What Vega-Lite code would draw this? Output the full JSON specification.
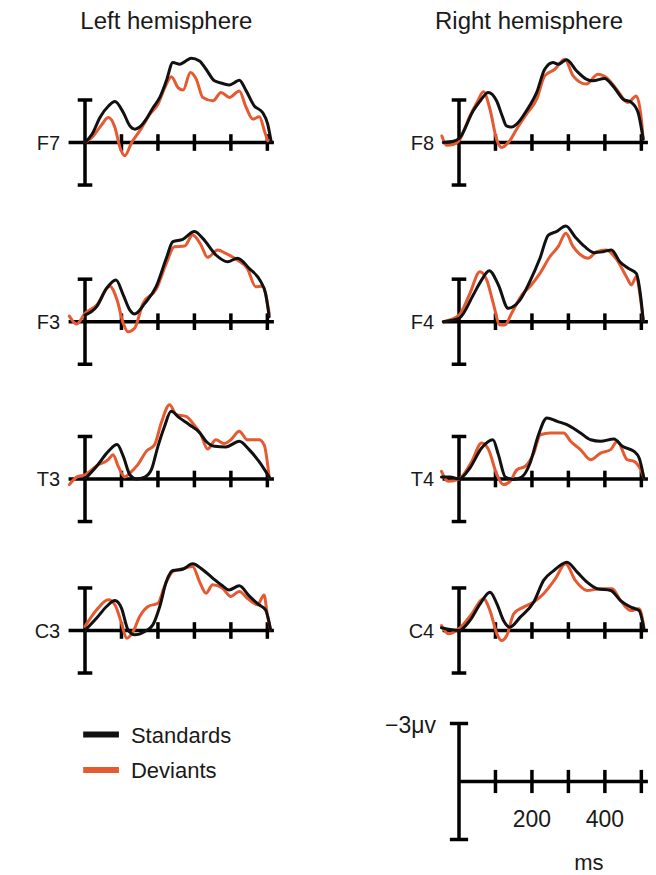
{
"$schema":"https://vega.github.io/schema/vega-lite/v6.json",
"padding":{"left":26.65,"top":0,"right":0,"bottom":0},
"config":{"view":{"stroke":null},"axis":{"disable":true},"legend":{"disable":true},
"rule":{"color":"#000000","strokeWidth":3.5},
"line":{"strokeWidth":3,"interpolate":"monotone","strokeJoin":"round","strokeCap":"round"},
"text":{"font":"Liberation Sans","color":"#1a1a1a","baseline":"alphabetic"}},
"datasets":{
"one":[{"k":1}],
"ticks":[{"ms":100},{"ms":200},{"ms":300},{"ms":400},{"ms":500}],
"legend":[{"cond":"Standards"},{"cond":"Deviants"}],
"erp":[
{"site":"F7","cond":"Standards","ms":0,"uv":0},{"site":"F7","cond":"Standards","ms":20,"uv":-0.45},{"site":"F7","cond":"Standards","ms":41,"uv":-1.29},{"site":"F7","cond":"Standards","ms":65,"uv":-1.9},{"site":"F7","cond":"Standards","ms":82,"uv":-2.12},{"site":"F7","cond":"Standards","ms":105,"uv":-1.55},{"site":"F7","cond":"Standards","ms":123,"uv":-0.86},{"site":"F7","cond":"Standards","ms":137,"uv":-0.69},{"site":"F7","cond":"Standards","ms":150,"uv":-0.8},{"site":"F7","cond":"Standards","ms":168,"uv":-1.21},{"site":"F7","cond":"Standards","ms":185,"uv":-1.75},{"site":"F7","cond":"Standards","ms":205,"uv":-2.33},{"site":"F7","cond":"Standards","ms":223,"uv":-3.19},{"site":"F7","cond":"Standards","ms":241,"uv":-4.14},{"site":"F7","cond":"Standards","ms":260,"uv":-4.05},{"site":"F7","cond":"Standards","ms":275,"uv":-4.2},{"site":"F7","cond":"Standards","ms":291,"uv":-4.36},{"site":"F7","cond":"Standards","ms":314,"uv":-4.22},{"site":"F7","cond":"Standards","ms":332,"uv":-3.79},{"site":"F7","cond":"Standards","ms":355,"uv":-3.19},{"site":"F7","cond":"Standards","ms":378,"uv":-3.05},{"site":"F7","cond":"Standards","ms":396,"uv":-2.98},{"site":"F7","cond":"Standards","ms":410,"uv":-3.1},{"site":"F7","cond":"Standards","ms":423,"uv":-3.22},{"site":"F7","cond":"Standards","ms":442,"uv":-2.67},{"site":"F7","cond":"Standards","ms":464,"uv":-1.9},{"site":"F7","cond":"Standards","ms":487,"uv":-1.55},{"site":"F7","cond":"Standards","ms":501,"uv":-0.95},{"site":"F7","cond":"Standards","ms":510,"uv":-0.09},
{"site":"F7","cond":"Deviants","ms":0,"uv":0},{"site":"F7","cond":"Deviants","ms":23,"uv":-0.34},{"site":"F7","cond":"Deviants","ms":45,"uv":-0.9},{"site":"F7","cond":"Deviants","ms":64,"uv":-1.29},{"site":"F7","cond":"Deviants","ms":82,"uv":-0.78},{"site":"F7","cond":"Deviants","ms":96,"uv":0.26},{"site":"F7","cond":"Deviants","ms":109,"uv":0.69},{"site":"F7","cond":"Deviants","ms":128,"uv":0},{"site":"F7","cond":"Deviants","ms":150,"uv":-0.6},{"site":"F7","cond":"Deviants","ms":178,"uv":-1.47},{"site":"F7","cond":"Deviants","ms":200,"uv":-1.98},{"site":"F7","cond":"Deviants","ms":219,"uv":-2.84},{"site":"F7","cond":"Deviants","ms":237,"uv":-3.4},{"site":"F7","cond":"Deviants","ms":255,"uv":-2.84},{"site":"F7","cond":"Deviants","ms":269,"uv":-2.71},{"site":"F7","cond":"Deviants","ms":289,"uv":-3.62},{"site":"F7","cond":"Deviants","ms":305,"uv":-3.28},{"site":"F7","cond":"Deviants","ms":323,"uv":-2.33},{"site":"F7","cond":"Deviants","ms":351,"uv":-2.16},{"site":"F7","cond":"Deviants","ms":373,"uv":-2.59},{"site":"F7","cond":"Deviants","ms":396,"uv":-2.33},{"site":"F7","cond":"Deviants","ms":423,"uv":-2.67},{"site":"F7","cond":"Deviants","ms":442,"uv":-1.81},{"site":"F7","cond":"Deviants","ms":460,"uv":-1.21},{"site":"F7","cond":"Deviants","ms":478,"uv":-1.33},{"site":"F7","cond":"Deviants","ms":492,"uv":-0.6},{"site":"F7","cond":"Deviants","ms":501,"uv":-0.09},
{"site":"F8","cond":"Standards","ms":-43,"uv":0},{"site":"F8","cond":"Standards","ms":-20,"uv":-0.05},{"site":"F8","cond":"Standards","ms":0,"uv":-0.2},{"site":"F8","cond":"Standards","ms":39,"uv":-1.64},{"site":"F8","cond":"Standards","ms":60,"uv":-2.2},{"site":"F8","cond":"Standards","ms":80,"uv":-2.59},{"site":"F8","cond":"Standards","ms":103,"uv":-2.16},{"site":"F8","cond":"Standards","ms":118,"uv":-1.4},{"site":"F8","cond":"Standards","ms":130,"uv":-0.86},{"site":"F8","cond":"Standards","ms":145,"uv":-0.8},{"site":"F8","cond":"Standards","ms":158,"uv":-0.95},{"site":"F8","cond":"Standards","ms":185,"uv":-1.64},{"site":"F8","cond":"Standards","ms":213,"uv":-2.59},{"site":"F8","cond":"Standards","ms":235,"uv":-3.79},{"site":"F8","cond":"Standards","ms":258,"uv":-4.14},{"site":"F8","cond":"Standards","ms":272,"uv":-4.05},{"site":"F8","cond":"Standards","ms":295,"uv":-4.28},{"site":"F8","cond":"Standards","ms":322,"uv":-3.71},{"site":"F8","cond":"Standards","ms":349,"uv":-3.28},{"site":"F8","cond":"Standards","ms":367,"uv":-3.19},{"site":"F8","cond":"Standards","ms":399,"uv":-3.31},{"site":"F8","cond":"Standards","ms":422,"uv":-2.93},{"site":"F8","cond":"Standards","ms":450,"uv":-2.24},{"site":"F8","cond":"Standards","ms":473,"uv":-2.07},{"site":"F8","cond":"Standards","ms":491,"uv":-1.55},{"site":"F8","cond":"Standards","ms":505,"uv":-0.17},
{"site":"F8","cond":"Deviants","ms":-47,"uv":-0.34},{"site":"F8","cond":"Deviants","ms":-34,"uv":0.14},{"site":"F8","cond":"Deviants","ms":-15,"uv":0.1},{"site":"F8","cond":"Deviants","ms":0,"uv":-0.09},{"site":"F8","cond":"Deviants","ms":30,"uv":-1.38},{"site":"F8","cond":"Deviants","ms":50,"uv":-2.1},{"site":"F8","cond":"Deviants","ms":67,"uv":-2.62},{"site":"F8","cond":"Deviants","ms":85,"uv":-1.72},{"site":"F8","cond":"Deviants","ms":103,"uv":-0.17},{"site":"F8","cond":"Deviants","ms":117,"uv":0.26},{"site":"F8","cond":"Deviants","ms":139,"uv":-0.09},{"site":"F8","cond":"Deviants","ms":158,"uv":-0.69},{"site":"F8","cond":"Deviants","ms":185,"uv":-1.47},{"site":"F8","cond":"Deviants","ms":213,"uv":-2.24},{"site":"F8","cond":"Deviants","ms":235,"uv":-3.45},{"site":"F8","cond":"Deviants","ms":263,"uv":-3.79},{"site":"F8","cond":"Deviants","ms":290,"uv":-4.31},{"site":"F8","cond":"Deviants","ms":313,"uv":-3.45},{"site":"F8","cond":"Deviants","ms":349,"uv":-3.02},{"site":"F8","cond":"Deviants","ms":381,"uv":-3.53},{"site":"F8","cond":"Deviants","ms":404,"uv":-3.36},{"site":"F8","cond":"Deviants","ms":432,"uv":-2.76},{"site":"F8","cond":"Deviants","ms":463,"uv":-2.07},{"site":"F8","cond":"Deviants","ms":486,"uv":-2.41},{"site":"F8","cond":"Deviants","ms":500,"uv":-1.21},{"site":"F8","cond":"Deviants","ms":505,"uv":-0.17},
{"site":"F3","cond":"Standards","ms":0,"uv":-0.34},{"site":"F3","cond":"Standards","ms":32,"uv":-0.78},{"site":"F3","cond":"Standards","ms":59,"uv":-1.72},{"site":"F3","cond":"Standards","ms":85,"uv":-2.16},{"site":"F3","cond":"Standards","ms":105,"uv":-1.38},{"site":"F3","cond":"Standards","ms":123,"uv":-0.6},{"site":"F3","cond":"Standards","ms":136,"uv":-0.4},{"site":"F3","cond":"Standards","ms":164,"uv":-0.95},{"site":"F3","cond":"Standards","ms":195,"uv":-1.81},{"site":"F3","cond":"Standards","ms":223,"uv":-3.28},{"site":"F3","cond":"Standards","ms":241,"uv":-4.14},{"site":"F3","cond":"Standards","ms":268,"uv":-4.26},{"site":"F3","cond":"Standards","ms":300,"uv":-4.66},{"site":"F3","cond":"Standards","ms":323,"uv":-4.31},{"site":"F3","cond":"Standards","ms":359,"uv":-3.45},{"site":"F3","cond":"Standards","ms":391,"uv":-3.1},{"site":"F3","cond":"Standards","ms":418,"uv":-3.28},{"site":"F3","cond":"Standards","ms":450,"uv":-2.76},{"site":"F3","cond":"Standards","ms":482,"uv":-2.07},{"site":"F3","cond":"Standards","ms":495,"uv":-1.47},{"site":"F3","cond":"Standards","ms":505,"uv":-0.26},
{"site":"F3","cond":"Deviants","ms":-43,"uv":-0.29},{"site":"F3","cond":"Deviants","ms":-23,"uv":0.12},{"site":"F3","cond":"Deviants","ms":0,"uv":-0.43},{"site":"F3","cond":"Deviants","ms":32,"uv":-0.86},{"site":"F3","cond":"Deviants","ms":68,"uv":-1.84},{"site":"F3","cond":"Deviants","ms":88,"uv":-1.12},{"site":"F3","cond":"Deviants","ms":105,"uv":0.09},{"site":"F3","cond":"Deviants","ms":118,"uv":0.52},{"site":"F3","cond":"Deviants","ms":136,"uv":0.34},{"site":"F3","cond":"Deviants","ms":159,"uv":-0.95},{"site":"F3","cond":"Deviants","ms":195,"uv":-1.67},{"site":"F3","cond":"Deviants","ms":223,"uv":-3.02},{"site":"F3","cond":"Deviants","ms":245,"uv":-3.88},{"site":"F3","cond":"Deviants","ms":273,"uv":-3.91},{"site":"F3","cond":"Deviants","ms":295,"uv":-4.48},{"site":"F3","cond":"Deviants","ms":318,"uv":-3.97},{"site":"F3","cond":"Deviants","ms":336,"uv":-3.33},{"site":"F3","cond":"Deviants","ms":364,"uv":-3.71},{"site":"F3","cond":"Deviants","ms":386,"uv":-3.53},{"site":"F3","cond":"Deviants","ms":418,"uv":-3.19},{"site":"F3","cond":"Deviants","ms":445,"uv":-2.76},{"site":"F3","cond":"Deviants","ms":468,"uv":-1.81},{"site":"F3","cond":"Deviants","ms":486,"uv":-1.84},{"site":"F3","cond":"Deviants","ms":505,"uv":-0.43},
{"site":"F4","cond":"Standards","ms":-43,"uv":0},{"site":"F4","cond":"Standards","ms":0,"uv":-0.17},{"site":"F4","cond":"Standards","ms":39,"uv":-1.38},{"site":"F4","cond":"Standards","ms":60,"uv":-2.1},{"site":"F4","cond":"Standards","ms":83,"uv":-2.64},{"site":"F4","cond":"Standards","ms":108,"uv":-1.9},{"site":"F4","cond":"Standards","ms":135,"uv":-0.69},{"site":"F4","cond":"Standards","ms":150,"uv":-0.8},{"site":"F4","cond":"Standards","ms":167,"uv":-1.12},{"site":"F4","cond":"Standards","ms":194,"uv":-2.07},{"site":"F4","cond":"Standards","ms":222,"uv":-3.28},{"site":"F4","cond":"Standards","ms":245,"uv":-4.48},{"site":"F4","cond":"Standards","ms":267,"uv":-4.66},{"site":"F4","cond":"Standards","ms":293,"uv":-4.95},{"site":"F4","cond":"Standards","ms":318,"uv":-4.4},{"site":"F4","cond":"Standards","ms":345,"uv":-3.88},{"site":"F4","cond":"Standards","ms":372,"uv":-3.57},{"site":"F4","cond":"Standards","ms":395,"uv":-3.62},{"site":"F4","cond":"Standards","ms":418,"uv":-3.71},{"site":"F4","cond":"Standards","ms":441,"uv":-3.1},{"site":"F4","cond":"Standards","ms":464,"uv":-2.76},{"site":"F4","cond":"Standards","ms":486,"uv":-2.5},{"site":"F4","cond":"Standards","ms":497,"uv":-1.47},{"site":"F4","cond":"Standards","ms":505,"uv":-0.09},
{"site":"F4","cond":"Deviants","ms":-43,"uv":0},{"site":"F4","cond":"Deviants","ms":0,"uv":-0.34},{"site":"F4","cond":"Deviants","ms":30,"uv":-1.47},{"site":"F4","cond":"Deviants","ms":57,"uv":-2.59},{"site":"F4","cond":"Deviants","ms":76,"uv":-2.16},{"site":"F4","cond":"Deviants","ms":94,"uv":-0.95},{"site":"F4","cond":"Deviants","ms":112,"uv":0.17},{"site":"F4","cond":"Deviants","ms":126,"uv":0.17},{"site":"F4","cond":"Deviants","ms":144,"uv":-0.43},{"site":"F4","cond":"Deviants","ms":172,"uv":-1.38},{"site":"F4","cond":"Deviants","ms":194,"uv":-1.81},{"site":"F4","cond":"Deviants","ms":222,"uv":-2.5},{"site":"F4","cond":"Deviants","ms":249,"uv":-3.36},{"site":"F4","cond":"Deviants","ms":272,"uv":-3.88},{"site":"F4","cond":"Deviants","ms":293,"uv":-4.57},{"site":"F4","cond":"Deviants","ms":313,"uv":-3.88},{"site":"F4","cond":"Deviants","ms":331,"uv":-3.5},{"site":"F4","cond":"Deviants","ms":354,"uv":-3.28},{"site":"F4","cond":"Deviants","ms":377,"uv":-3.62},{"site":"F4","cond":"Deviants","ms":404,"uv":-3.71},{"site":"F4","cond":"Deviants","ms":432,"uv":-3.22},{"site":"F4","cond":"Deviants","ms":459,"uv":-2.33},{"site":"F4","cond":"Deviants","ms":473,"uv":-1.9},{"site":"F4","cond":"Deviants","ms":486,"uv":-2.33},{"site":"F4","cond":"Deviants","ms":497,"uv":-1.29},{"site":"F4","cond":"Deviants","ms":505,"uv":-0.09},
{"site":"T3","cond":"Standards","ms":0,"uv":0},{"site":"T3","cond":"Standards","ms":32,"uv":-0.66},{"site":"T3","cond":"Standards","ms":64,"uv":-1.43},{"site":"T3","cond":"Standards","ms":88,"uv":-1.78},{"site":"T3","cond":"Standards","ms":105,"uv":-1.17},{"site":"T3","cond":"Standards","ms":123,"uv":-0.22},{"site":"T3","cond":"Standards","ms":141,"uv":0},{"site":"T3","cond":"Standards","ms":164,"uv":-0.1},{"site":"T3","cond":"Standards","ms":182,"uv":-0.48},{"site":"T3","cond":"Standards","ms":200,"uv":-1.69},{"site":"T3","cond":"Standards","ms":218,"uv":-2.72},{"site":"T3","cond":"Standards","ms":236,"uv":-3.5},{"site":"T3","cond":"Standards","ms":259,"uv":-3.16},{"site":"T3","cond":"Standards","ms":286,"uv":-2.81},{"site":"T3","cond":"Standards","ms":314,"uv":-2.41},{"site":"T3","cond":"Standards","ms":332,"uv":-1.95},{"site":"T3","cond":"Standards","ms":355,"uv":-1.69},{"site":"T3","cond":"Standards","ms":386,"uv":-1.66},{"site":"T3","cond":"Standards","ms":423,"uv":-1.95},{"site":"T3","cond":"Standards","ms":450,"uv":-1.52},{"site":"T3","cond":"Standards","ms":477,"uv":-0.91},{"site":"T3","cond":"Standards","ms":505,"uv":-0.1},
{"site":"T3","cond":"Deviants","ms":-43,"uv":0.29},{"site":"T3","cond":"Deviants","ms":-23,"uv":-0.1},{"site":"T3","cond":"Deviants","ms":0,"uv":-0.22},{"site":"T3","cond":"Deviants","ms":32,"uv":-0.69},{"site":"T3","cond":"Deviants","ms":64,"uv":-1.0},{"site":"T3","cond":"Deviants","ms":77,"uv":-1.26},{"site":"T3","cond":"Deviants","ms":91,"uv":-0.66},{"site":"T3","cond":"Deviants","ms":109,"uv":-0.1},{"site":"T3","cond":"Deviants","ms":123,"uv":-0.31},{"site":"T3","cond":"Deviants","ms":145,"uv":-0.74},{"site":"T3","cond":"Deviants","ms":168,"uv":-1.43},{"site":"T3","cond":"Deviants","ms":191,"uv":-1.78},{"site":"T3","cond":"Deviants","ms":209,"uv":-2.9},{"site":"T3","cond":"Deviants","ms":232,"uv":-3.84},{"site":"T3","cond":"Deviants","ms":250,"uv":-3.33},{"site":"T3","cond":"Deviants","ms":277,"uv":-3.24},{"site":"T3","cond":"Deviants","ms":295,"uv":-2.9},{"site":"T3","cond":"Deviants","ms":318,"uv":-2.29},{"site":"T3","cond":"Deviants","ms":336,"uv":-1.55},{"site":"T3","cond":"Deviants","ms":359,"uv":-2.03},{"site":"T3","cond":"Deviants","ms":382,"uv":-1.83},{"site":"T3","cond":"Deviants","ms":400,"uv":-2.03},{"site":"T3","cond":"Deviants","ms":423,"uv":-2.47},{"site":"T3","cond":"Deviants","ms":445,"uv":-2.03},{"site":"T3","cond":"Deviants","ms":477,"uv":-2.03},{"site":"T3","cond":"Deviants","ms":491,"uv":-1.78},{"site":"T3","cond":"Deviants","ms":505,"uv":-0.1},
{"site":"T4","cond":"Standards","ms":-48,"uv":-0.1},{"site":"T4","cond":"Standards","ms":-25,"uv":-0.1},{"site":"T4","cond":"Standards","ms":0,"uv":0},{"site":"T4","cond":"Standards","ms":30,"uv":-0.57},{"site":"T4","cond":"Standards","ms":62,"uv":-1.6},{"site":"T4","cond":"Standards","ms":93,"uv":-2.03},{"site":"T4","cond":"Standards","ms":108,"uv":-1.26},{"site":"T4","cond":"Standards","ms":127,"uv":-0.1},{"site":"T4","cond":"Standards","ms":150,"uv":0.03},{"site":"T4","cond":"Standards","ms":172,"uv":-0.1},{"site":"T4","cond":"Standards","ms":195,"uv":-0.83},{"site":"T4","cond":"Standards","ms":218,"uv":-2.29},{"site":"T4","cond":"Standards","ms":241,"uv":-3.16},{"site":"T4","cond":"Standards","ms":269,"uv":-2.98},{"site":"T4","cond":"Standards","ms":296,"uv":-2.81},{"site":"T4","cond":"Standards","ms":333,"uv":-2.38},{"site":"T4","cond":"Standards","ms":361,"uv":-2.03},{"site":"T4","cond":"Standards","ms":388,"uv":-1.95},{"site":"T4","cond":"Standards","ms":425,"uv":-2.07},{"site":"T4","cond":"Standards","ms":448,"uv":-1.69},{"site":"T4","cond":"Standards","ms":480,"uv":-1.43},{"site":"T4","cond":"Standards","ms":494,"uv":-1.09},{"site":"T4","cond":"Standards","ms":507,"uv":-0.05},
{"site":"T4","cond":"Deviants","ms":-48,"uv":-0.4},{"site":"T4","cond":"Deviants","ms":-29,"uv":0.12},{"site":"T4","cond":"Deviants","ms":0,"uv":0},{"site":"T4","cond":"Deviants","ms":35,"uv":-0.91},{"site":"T4","cond":"Deviants","ms":62,"uv":-1.86},{"site":"T4","cond":"Deviants","ms":81,"uv":-1.52},{"site":"T4","cond":"Deviants","ms":104,"uv":-0.22},{"site":"T4","cond":"Deviants","ms":122,"uv":0.29},{"site":"T4","cond":"Deviants","ms":140,"uv":0.12},{"site":"T4","cond":"Deviants","ms":159,"uv":-0.48},{"site":"T4","cond":"Deviants","ms":182,"uv":-0.66},{"site":"T4","cond":"Deviants","ms":205,"uv":-1.34},{"site":"T4","cond":"Deviants","ms":223,"uv":-2.29},{"site":"T4","cond":"Deviants","ms":250,"uv":-2.38},{"site":"T4","cond":"Deviants","ms":287,"uv":-2.38},{"site":"T4","cond":"Deviants","ms":306,"uv":-1.95},{"site":"T4","cond":"Deviants","ms":333,"uv":-1.52},{"site":"T4","cond":"Deviants","ms":361,"uv":-1.0},{"site":"T4","cond":"Deviants","ms":388,"uv":-1.34},{"site":"T4","cond":"Deviants","ms":416,"uv":-1.52},{"site":"T4","cond":"Deviants","ms":434,"uv":-1.95},{"site":"T4","cond":"Deviants","ms":461,"uv":-1.0},{"site":"T4","cond":"Deviants","ms":480,"uv":-0.91},{"site":"T4","cond":"Deviants","ms":498,"uv":-0.48},{"site":"T4","cond":"Deviants","ms":507,"uv":-0.05},
{"site":"C3","cond":"Standards","ms":0,"uv":0},{"site":"C3","cond":"Standards","ms":32,"uv":-0.64},{"site":"C3","cond":"Standards","ms":59,"uv":-1.24},{"site":"C3","cond":"Standards","ms":82,"uv":-1.55},{"site":"C3","cond":"Standards","ms":100,"uv":-1.16},{"site":"C3","cond":"Standards","ms":118,"uv":-0.03},{"site":"C3","cond":"Standards","ms":136,"uv":0.22},{"site":"C3","cond":"Standards","ms":164,"uv":0.05},{"site":"C3","cond":"Standards","ms":186,"uv":-0.29},{"site":"C3","cond":"Standards","ms":205,"uv":-1.24},{"site":"C3","cond":"Standards","ms":223,"uv":-2.53},{"site":"C3","cond":"Standards","ms":241,"uv":-3.1},{"site":"C3","cond":"Standards","ms":268,"uv":-3.17},{"site":"C3","cond":"Standards","ms":295,"uv":-3.45},{"site":"C3","cond":"Standards","ms":323,"uv":-3.14},{"site":"C3","cond":"Standards","ms":350,"uv":-2.71},{"site":"C3","cond":"Standards","ms":377,"uv":-2.31},{"site":"C3","cond":"Standards","ms":395,"uv":-2.1},{"site":"C3","cond":"Standards","ms":423,"uv":-2.31},{"site":"C3","cond":"Standards","ms":450,"uv":-1.79},{"site":"C3","cond":"Standards","ms":477,"uv":-1.33},{"site":"C3","cond":"Standards","ms":495,"uv":-1.07},{"site":"C3","cond":"Standards","ms":509,"uv":-0.03},
{"site":"C3","cond":"Deviants","ms":0,"uv":-0.21},{"site":"C3","cond":"Deviants","ms":32,"uv":-1.07},{"site":"C3","cond":"Deviants","ms":64,"uv":-1.59},{"site":"C3","cond":"Deviants","ms":82,"uv":-1.33},{"site":"C3","cond":"Deviants","ms":100,"uv":-0.38},{"site":"C3","cond":"Deviants","ms":114,"uv":0.4},{"site":"C3","cond":"Deviants","ms":132,"uv":0.05},{"site":"C3","cond":"Deviants","ms":150,"uv":-0.72},{"site":"C3","cond":"Deviants","ms":173,"uv":-1.24},{"site":"C3","cond":"Deviants","ms":200,"uv":-1.41},{"site":"C3","cond":"Deviants","ms":218,"uv":-2.28},{"site":"C3","cond":"Deviants","ms":241,"uv":-3.05},{"site":"C3","cond":"Deviants","ms":273,"uv":-3.22},{"site":"C3","cond":"Deviants","ms":295,"uv":-3.31},{"site":"C3","cond":"Deviants","ms":314,"uv":-2.53},{"site":"C3","cond":"Deviants","ms":332,"uv":-1.93},{"site":"C3","cond":"Deviants","ms":350,"uv":-2.36},{"site":"C3","cond":"Deviants","ms":377,"uv":-2.19},{"site":"C3","cond":"Deviants","ms":400,"uv":-1.76},{"site":"C3","cond":"Deviants","ms":423,"uv":-2.02},{"site":"C3","cond":"Deviants","ms":445,"uv":-1.67},{"site":"C3","cond":"Deviants","ms":473,"uv":-1.33},{"site":"C3","cond":"Deviants","ms":491,"uv":-1.84},{"site":"C3","cond":"Deviants","ms":500,"uv":-0.81},{"site":"C3","cond":"Deviants","ms":509,"uv":-0.03},
{"site":"C4","cond":"Standards","ms":-48,"uv":-0.14},{"site":"C4","cond":"Standards","ms":0,"uv":0},{"site":"C4","cond":"Standards","ms":30,"uv":-0.52},{"site":"C4","cond":"Standards","ms":58,"uv":-1.38},{"site":"C4","cond":"Standards","ms":85,"uv":-1.98},{"site":"C4","cond":"Standards","ms":104,"uv":-1.38},{"site":"C4","cond":"Standards","ms":122,"uv":-0.52},{"site":"C4","cond":"Standards","ms":139,"uv":-0.17},{"site":"C4","cond":"Standards","ms":168,"uv":-0.69},{"site":"C4","cond":"Standards","ms":205,"uv":-1.47},{"site":"C4","cond":"Standards","ms":232,"uv":-2.59},{"site":"C4","cond":"Standards","ms":260,"uv":-3.1},{"site":"C4","cond":"Standards","ms":296,"uv":-3.53},{"site":"C4","cond":"Standards","ms":324,"uv":-3.02},{"site":"C4","cond":"Standards","ms":351,"uv":-2.5},{"site":"C4","cond":"Standards","ms":379,"uv":-2.16},{"site":"C4","cond":"Standards","ms":416,"uv":-2.07},{"site":"C4","cond":"Standards","ms":443,"uv":-1.55},{"site":"C4","cond":"Standards","ms":471,"uv":-1.21},{"site":"C4","cond":"Standards","ms":494,"uv":-1.03},{"site":"C4","cond":"Standards","ms":507,"uv":-0.09},
{"site":"C4","cond":"Deviants","ms":-48,"uv":-0.26},{"site":"C4","cond":"Deviants","ms":-29,"uv":0.17},{"site":"C4","cond":"Deviants","ms":0,"uv":-0.09},{"site":"C4","cond":"Deviants","ms":35,"uv":-0.86},{"site":"C4","cond":"Deviants","ms":67,"uv":-1.64},{"site":"C4","cond":"Deviants","ms":85,"uv":-1.03},{"site":"C4","cond":"Deviants","ms":104,"uv":0.17},{"site":"C4","cond":"Deviants","ms":117,"uv":0.52},{"site":"C4","cond":"Deviants","ms":131,"uv":0.26},{"site":"C4","cond":"Deviants","ms":150,"uv":-0.86},{"site":"C4","cond":"Deviants","ms":177,"uv":-1.21},{"site":"C4","cond":"Deviants","ms":205,"uv":-1.47},{"site":"C4","cond":"Deviants","ms":232,"uv":-1.9},{"site":"C4","cond":"Deviants","ms":264,"uv":-2.67},{"site":"C4","cond":"Deviants","ms":292,"uv":-3.45},{"site":"C4","cond":"Deviants","ms":319,"uv":-2.59},{"site":"C4","cond":"Deviants","ms":351,"uv":-2.07},{"site":"C4","cond":"Deviants","ms":388,"uv":-2.16},{"site":"C4","cond":"Deviants","ms":420,"uv":-2.16},{"site":"C4","cond":"Deviants","ms":443,"uv":-1.55},{"site":"C4","cond":"Deviants","ms":471,"uv":-1.03},{"site":"C4","cond":"Deviants","ms":494,"uv":-1.12},{"site":"C4","cond":"Deviants","ms":507,"uv":-0.17}
]},
"vconcat":[
{"hconcat":[
{"width":248,"height":200,"layer":[
{"data":{"name":"one"},"mark":"rule","encoding":{"x":{"datum":-45,"type":"quantitative","scale":{"domain":[-160,520],"nice":false,"zero":false}},"x2":{"datum":518},"y":{"datum":0,"type":"quantitative","scale":{"domain":[-7.371,2.974],"nice":false,"zero":false,"reverse":true}}}},
{"data":{"name":"one"},"mark":"rule","encoding":{"x":{"datum":0,"type":"quantitative"},"y":{"datum":-2.2,"type":"quantitative"},"y2":{"datum":2.2}}},
{"data":{"name":"one"},"mark":"rule","encoding":{"x":{"datum":-20,"type":"quantitative"},"x2":{"datum":20},"y":{"datum":-2.2,"type":"quantitative"}}},
{"data":{"name":"one"},"mark":"rule","encoding":{"x":{"datum":-20,"type":"quantitative"},"x2":{"datum":20},"y":{"datum":2.2,"type":"quantitative"}}},
{"data":{"name":"ticks"},"mark":"rule","encoding":{"x":{"field":"ms","type":"quantitative"},"y":{"datum":-0.43,"type":"quantitative"},"y2":{"datum":0.43}}},
{"data":{"name":"erp"},"transform":[{"filter":"datum.site==='F7' && datum.cond==='Deviants'"}],"mark":"line","encoding":{"x":{"field":"ms","type":"quantitative"},"y":{"field":"uv","type":"quantitative"},"color":{"field":"cond","type":"nominal","scale":{"domain":["Standards","Deviants"],"range":["#111111","#E65A32"]},"legend":null}}},
{"data":{"name":"erp"},"transform":[{"filter":"datum.site==='F7' && datum.cond==='Standards'"}],"mark":"line","encoding":{"x":{"field":"ms","type":"quantitative"},"y":{"field":"uv","type":"quantitative"},"color":{"field":"cond","type":"nominal","legend":null}}},
{"data":{"name":"one"},"mark":{"type":"text","align":"right","fontSize":20},"encoding":{"x":{"datum":-68,"type":"quantitative"},"y":{"datum":0.37,"type":"quantitative"},"text":{"value":"F7"}}},
{"data":{"name":"one"},"mark":{"type":"text","align":"center","fontSize":24},"encoding":{"x":{"datum":223,"type":"quantitative"},"y":{"datum":-5.855,"type":"quantitative"},"text":{"value":"Left hemisphere"}}}
]},
{"width":248,"height":200,"layer":[
{"data":{"name":"one"},"mark":"rule","encoding":{"x":{"datum":-45,"type":"quantitative","scale":{"domain":[-160,520],"nice":false,"zero":false}},"x2":{"datum":518},"y":{"datum":0,"type":"quantitative","scale":{"domain":[-7.371,2.974],"nice":false,"zero":false,"reverse":true}}}},
{"data":{"name":"one"},"mark":"rule","encoding":{"x":{"datum":0,"type":"quantitative"},"y":{"datum":-2.2,"type":"quantitative"},"y2":{"datum":2.2}}},
{"data":{"name":"one"},"mark":"rule","encoding":{"x":{"datum":-20,"type":"quantitative"},"x2":{"datum":20},"y":{"datum":-2.2,"type":"quantitative"}}},
{"data":{"name":"one"},"mark":"rule","encoding":{"x":{"datum":-20,"type":"quantitative"},"x2":{"datum":20},"y":{"datum":2.2,"type":"quantitative"}}},
{"data":{"name":"ticks"},"mark":"rule","encoding":{"x":{"field":"ms","type":"quantitative"},"y":{"datum":-0.43,"type":"quantitative"},"y2":{"datum":0.43}}},
{"data":{"name":"erp"},"transform":[{"filter":"datum.site==='F8' && datum.cond==='Deviants'"}],"mark":"line","encoding":{"x":{"field":"ms","type":"quantitative"},"y":{"field":"uv","type":"quantitative"},"color":{"field":"cond","type":"nominal","legend":null}}},
{"data":{"name":"erp"},"transform":[{"filter":"datum.site==='F8' && datum.cond==='Standards'"}],"mark":"line","encoding":{"x":{"field":"ms","type":"quantitative"},"y":{"field":"uv","type":"quantitative"},"color":{"field":"cond","type":"nominal","legend":null}}},
{"data":{"name":"one"},"mark":{"type":"text","align":"right","fontSize":20},"encoding":{"x":{"datum":-68,"type":"quantitative"},"y":{"datum":0.37,"type":"quantitative"},"text":{"value":"F8"}}},
{"data":{"name":"one"},"mark":{"type":"text","align":"center","fontSize":24},"encoding":{"x":{"datum":192,"type":"quantitative"},"y":{"datum":-5.855,"type":"quantitative"},"text":{"value":"Right hemisphere"}}}
]}
],"spacing":126,"bounds":"flush"},
{"hconcat":[
{"width":248,"height":170,"layer":[
{"data":{"name":"one"},"mark":"rule","encoding":{"x":{"datum":-45,"type":"quantitative","scale":{"domain":[-160,520],"nice":false,"zero":false}},"x2":{"datum":518},"y":{"datum":0,"type":"quantitative","scale":{"domain":[-6.295,2.498],"nice":false,"zero":false,"reverse":true}}}},
{"data":{"name":"one"},"mark":"rule","encoding":{"x":{"datum":0,"type":"quantitative"},"y":{"datum":-2.2,"type":"quantitative"},"y2":{"datum":2.2}}},
{"data":{"name":"one"},"mark":"rule","encoding":{"x":{"datum":-20,"type":"quantitative"},"x2":{"datum":20},"y":{"datum":-2.2,"type":"quantitative"}}},
{"data":{"name":"one"},"mark":"rule","encoding":{"x":{"datum":-20,"type":"quantitative"},"x2":{"datum":20},"y":{"datum":2.2,"type":"quantitative"}}},
{"data":{"name":"ticks"},"mark":"rule","encoding":{"x":{"field":"ms","type":"quantitative"},"y":{"datum":-0.43,"type":"quantitative"},"y2":{"datum":0.43}}},
{"data":{"name":"erp"},"transform":[{"filter":"datum.site==='F3' && datum.cond==='Deviants'"}],"mark":"line","encoding":{"x":{"field":"ms","type":"quantitative"},"y":{"field":"uv","type":"quantitative"},"color":{"field":"cond","type":"nominal","legend":null}}},
{"data":{"name":"erp"},"transform":[{"filter":"datum.site==='F3' && datum.cond==='Standards'"}],"mark":"line","encoding":{"x":{"field":"ms","type":"quantitative"},"y":{"field":"uv","type":"quantitative"},"color":{"field":"cond","type":"nominal","legend":null}}},
{"data":{"name":"one"},"mark":{"type":"text","align":"right","fontSize":20},"encoding":{"x":{"datum":-68,"type":"quantitative"},"y":{"datum":0.37,"type":"quantitative"},"text":{"value":"F3"}}}
]},
{"width":248,"height":170,"layer":[
{"data":{"name":"one"},"mark":"rule","encoding":{"x":{"datum":-45,"type":"quantitative","scale":{"domain":[-160,520],"nice":false,"zero":false}},"x2":{"datum":518},"y":{"datum":0,"type":"quantitative","scale":{"domain":[-6.295,2.498],"nice":false,"zero":false,"reverse":true}}}},
{"data":{"name":"one"},"mark":"rule","encoding":{"x":{"datum":0,"type":"quantitative"},"y":{"datum":-2.2,"type":"quantitative"},"y2":{"datum":2.2}}},
{"data":{"name":"one"},"mark":"rule","encoding":{"x":{"datum":-20,"type":"quantitative"},"x2":{"datum":20},"y":{"datum":-2.2,"type":"quantitative"}}},
{"data":{"name":"one"},"mark":"rule","encoding":{"x":{"datum":-20,"type":"quantitative"},"x2":{"datum":20},"y":{"datum":2.2,"type":"quantitative"}}},
{"data":{"name":"ticks"},"mark":"rule","encoding":{"x":{"field":"ms","type":"quantitative"},"y":{"datum":-0.43,"type":"quantitative"},"y2":{"datum":0.43}}},
{"data":{"name":"erp"},"transform":[{"filter":"datum.site==='F4' && datum.cond==='Deviants'"}],"mark":"line","encoding":{"x":{"field":"ms","type":"quantitative"},"y":{"field":"uv","type":"quantitative"},"color":{"field":"cond","type":"nominal","legend":null}}},
{"data":{"name":"erp"},"transform":[{"filter":"datum.site==='F4' && datum.cond==='Standards'"}],"mark":"line","encoding":{"x":{"field":"ms","type":"quantitative"},"y":{"field":"uv","type":"quantitative"},"color":{"field":"cond","type":"nominal","legend":null}}},
{"data":{"name":"one"},"mark":{"type":"text","align":"right","fontSize":20},"encoding":{"x":{"datum":-68,"type":"quantitative"},"y":{"datum":0.37,"type":"quantitative"},"text":{"value":"F4"}}}
]}
],"spacing":126,"bounds":"flush"},
{"hconcat":[
{"width":248,"height":170,"layer":[
{"data":{"name":"one"},"mark":"rule","encoding":{"x":{"datum":-45,"type":"quantitative","scale":{"domain":[-160,520],"nice":false,"zero":false}},"x2":{"datum":518},"y":{"datum":0,"type":"quantitative","scale":{"domain":[-5.638,3.155],"nice":false,"zero":false,"reverse":true}}}},
{"data":{"name":"one"},"mark":"rule","encoding":{"x":{"datum":0,"type":"quantitative"},"y":{"datum":-2.2,"type":"quantitative"},"y2":{"datum":2.2}}},
{"data":{"name":"one"},"mark":"rule","encoding":{"x":{"datum":-20,"type":"quantitative"},"x2":{"datum":20},"y":{"datum":-2.2,"type":"quantitative"}}},
{"data":{"name":"one"},"mark":"rule","encoding":{"x":{"datum":-20,"type":"quantitative"},"x2":{"datum":20},"y":{"datum":2.2,"type":"quantitative"}}},
{"data":{"name":"ticks"},"mark":"rule","encoding":{"x":{"field":"ms","type":"quantitative"},"y":{"datum":-0.43,"type":"quantitative"},"y2":{"datum":0.43}}},
{"data":{"name":"erp"},"transform":[{"filter":"datum.site==='T3' && datum.cond==='Deviants'"}],"mark":"line","encoding":{"x":{"field":"ms","type":"quantitative"},"y":{"field":"uv","type":"quantitative"},"color":{"field":"cond","type":"nominal","legend":null}}},
{"data":{"name":"erp"},"transform":[{"filter":"datum.site==='T3' && datum.cond==='Standards'"}],"mark":"line","encoding":{"x":{"field":"ms","type":"quantitative"},"y":{"field":"uv","type":"quantitative"},"color":{"field":"cond","type":"nominal","legend":null}}},
{"data":{"name":"one"},"mark":{"type":"text","align":"right","fontSize":20},"encoding":{"x":{"datum":-68,"type":"quantitative"},"y":{"datum":0.37,"type":"quantitative"},"text":{"value":"T3"}}}
]},
{"width":248,"height":170,"layer":[
{"data":{"name":"one"},"mark":"rule","encoding":{"x":{"datum":-45,"type":"quantitative","scale":{"domain":[-160,520],"nice":false,"zero":false}},"x2":{"datum":518},"y":{"datum":0,"type":"quantitative","scale":{"domain":[-5.638,3.155],"nice":false,"zero":false,"reverse":true}}}},
{"data":{"name":"one"},"mark":"rule","encoding":{"x":{"datum":0,"type":"quantitative"},"y":{"datum":-2.2,"type":"quantitative"},"y2":{"datum":2.2}}},
{"data":{"name":"one"},"mark":"rule","encoding":{"x":{"datum":-20,"type":"quantitative"},"x2":{"datum":20},"y":{"datum":-2.2,"type":"quantitative"}}},
{"data":{"name":"one"},"mark":"rule","encoding":{"x":{"datum":-20,"type":"quantitative"},"x2":{"datum":20},"y":{"datum":2.2,"type":"quantitative"}}},
{"data":{"name":"ticks"},"mark":"rule","encoding":{"x":{"field":"ms","type":"quantitative"},"y":{"datum":-0.43,"type":"quantitative"},"y2":{"datum":0.43}}},
{"data":{"name":"erp"},"transform":[{"filter":"datum.site==='T4' && datum.cond==='Deviants'"}],"mark":"line","encoding":{"x":{"field":"ms","type":"quantitative"},"y":{"field":"uv","type":"quantitative"},"color":{"field":"cond","type":"nominal","legend":null}}},
{"data":{"name":"erp"},"transform":[{"filter":"datum.site==='T4' && datum.cond==='Standards'"}],"mark":"line","encoding":{"x":{"field":"ms","type":"quantitative"},"y":{"field":"uv","type":"quantitative"},"color":{"field":"cond","type":"nominal","legend":null}}},
{"data":{"name":"one"},"mark":{"type":"text","align":"right","fontSize":20},"encoding":{"x":{"datum":-68,"type":"quantitative"},"y":{"datum":0.37,"type":"quantitative"},"text":{"value":"T4"}}}
]}
],"spacing":126,"bounds":"flush"},
{"hconcat":[
{"width":248,"height":150,"layer":[
{"data":{"name":"one"},"mark":"rule","encoding":{"x":{"datum":-45,"type":"quantitative","scale":{"domain":[-160,520],"nice":false,"zero":false}},"x2":{"datum":518},"y":{"datum":0,"type":"quantitative","scale":{"domain":[-4.681,3.078],"nice":false,"zero":false,"reverse":true}}}},
{"data":{"name":"one"},"mark":"rule","encoding":{"x":{"datum":0,"type":"quantitative"},"y":{"datum":-2.2,"type":"quantitative"},"y2":{"datum":2.2}}},
{"data":{"name":"one"},"mark":"rule","encoding":{"x":{"datum":-20,"type":"quantitative"},"x2":{"datum":20},"y":{"datum":-2.2,"type":"quantitative"}}},
{"data":{"name":"one"},"mark":"rule","encoding":{"x":{"datum":-20,"type":"quantitative"},"x2":{"datum":20},"y":{"datum":2.2,"type":"quantitative"}}},
{"data":{"name":"ticks"},"mark":"rule","encoding":{"x":{"field":"ms","type":"quantitative"},"y":{"datum":-0.43,"type":"quantitative"},"y2":{"datum":0.43}}},
{"data":{"name":"erp"},"transform":[{"filter":"datum.site==='C3' && datum.cond==='Deviants'"}],"mark":"line","encoding":{"x":{"field":"ms","type":"quantitative"},"y":{"field":"uv","type":"quantitative"},"color":{"field":"cond","type":"nominal","legend":null}}},
{"data":{"name":"erp"},"transform":[{"filter":"datum.site==='C3' && datum.cond==='Standards'"}],"mark":"line","encoding":{"x":{"field":"ms","type":"quantitative"},"y":{"field":"uv","type":"quantitative"},"color":{"field":"cond","type":"nominal","legend":null}}},
{"data":{"name":"one"},"mark":{"type":"text","align":"right","fontSize":20},"encoding":{"x":{"datum":-68,"type":"quantitative"},"y":{"datum":0.37,"type":"quantitative"},"text":{"value":"C3"}}}
]},
{"width":248,"height":150,"layer":[
{"data":{"name":"one"},"mark":"rule","encoding":{"x":{"datum":-45,"type":"quantitative","scale":{"domain":[-160,520],"nice":false,"zero":false}},"x2":{"datum":518},"y":{"datum":0,"type":"quantitative","scale":{"domain":[-4.681,3.078],"nice":false,"zero":false,"reverse":true}}}},
{"data":{"name":"one"},"mark":"rule","encoding":{"x":{"datum":0,"type":"quantitative"},"y":{"datum":-2.2,"type":"quantitative"},"y2":{"datum":2.2}}},
{"data":{"name":"one"},"mark":"rule","encoding":{"x":{"datum":-20,"type":"quantitative"},"x2":{"datum":20},"y":{"datum":-2.2,"type":"quantitative"}}},
{"data":{"name":"one"},"mark":"rule","encoding":{"x":{"datum":-20,"type":"quantitative"},"x2":{"datum":20},"y":{"datum":2.2,"type":"quantitative"}}},
{"data":{"name":"ticks"},"mark":"rule","encoding":{"x":{"field":"ms","type":"quantitative"},"y":{"datum":-0.43,"type":"quantitative"},"y2":{"datum":0.43}}},
{"data":{"name":"erp"},"transform":[{"filter":"datum.site==='C4' && datum.cond==='Deviants'"}],"mark":"line","encoding":{"x":{"field":"ms","type":"quantitative"},"y":{"field":"uv","type":"quantitative"},"color":{"field":"cond","type":"nominal","legend":null}}},
{"data":{"name":"erp"},"transform":[{"filter":"datum.site==='C4' && datum.cond==='Standards'"}],"mark":"line","encoding":{"x":{"field":"ms","type":"quantitative"},"y":{"field":"uv","type":"quantitative"},"color":{"field":"cond","type":"nominal","legend":null}}},
{"data":{"name":"one"},"mark":{"type":"text","align":"right","fontSize":20},"encoding":{"x":{"datum":-68,"type":"quantitative"},"y":{"datum":0.37,"type":"quantitative"},"text":{"value":"C4"}}}
]}
],"spacing":126,"bounds":"flush"},
{"hconcat":[
{"width":248,"height":185,"data":{"name":"legend"},"layer":[
{"mark":{"type":"rule","strokeWidth":6},"encoding":{"x":{"datum":-5,"type":"quantitative","scale":{"domain":[-160,520],"nice":false,"zero":false}},"x2":{"datum":93},"y":{"field":"cond","type":"nominal","scale":{"type":"point","domain":["Standards","Deviants"],"range":[44.5,80],"padding":0}},"color":{"field":"cond","type":"nominal","legend":null}}},
{"mark":{"type":"text","align":"left","fontSize":22,"dy":8.5},"encoding":{"x":{"datum":126,"type":"quantitative"},"y":{"field":"cond","type":"nominal"},"text":{"field":"cond"}}}
]},
{"width":248,"height":185,"layer":[
{"data":{"name":"one"},"mark":"rule","encoding":{"x":{"datum":0,"type":"quantitative","scale":{"domain":[-160,520],"nice":false,"zero":false}},"x2":{"datum":518},"y":{"datum":0,"type":"quantitative","scale":{"domain":[-4.733,4.836],"nice":false,"zero":false,"reverse":true}}}},
{"data":{"name":"one"},"mark":"rule","encoding":{"x":{"datum":0,"type":"quantitative"},"y":{"datum":-3,"type":"quantitative"},"y2":{"datum":3}}},
{"data":{"name":"one"},"mark":"rule","encoding":{"x":{"datum":-25,"type":"quantitative"},"x2":{"datum":25},"y":{"datum":-3,"type":"quantitative"}}},
{"data":{"name":"one"},"mark":"rule","encoding":{"x":{"datum":-25,"type":"quantitative"},"x2":{"datum":25},"y":{"datum":3,"type":"quantitative"}}},
{"data":{"name":"ticks"},"mark":"rule","encoding":{"x":{"field":"ms","type":"quantitative"},"y":{"datum":-0.6,"type":"quantitative"},"y2":{"datum":0.6}}},
{"data":{"name":"ticks"},"transform":[{"filter":"datum.ms===200 || datum.ms===400"}],"mark":{"type":"text","align":"center","fontSize":23},"encoding":{"x":{"field":"ms","type":"quantitative"},"y":{"datum":2.353,"type":"quantitative"},"text":{"field":"ms"}}},
{"data":{"name":"one"},"mark":{"type":"text","align":"center","fontSize":22},"encoding":{"x":{"datum":356,"type":"quantitative"},"y":{"datum":4.6,"type":"quantitative"},"text":{"value":"ms"}}},
{"data":{"name":"one"},"mark":{"type":"text","align":"right","fontSize":23},"encoding":{"x":{"datum":-63,"type":"quantitative"},"y":{"datum":-2.509,"type":"quantitative"},"text":{"value":"−3μv"}}}
]}
],"spacing":126,"bounds":"flush"}
],"spacing":0
}
